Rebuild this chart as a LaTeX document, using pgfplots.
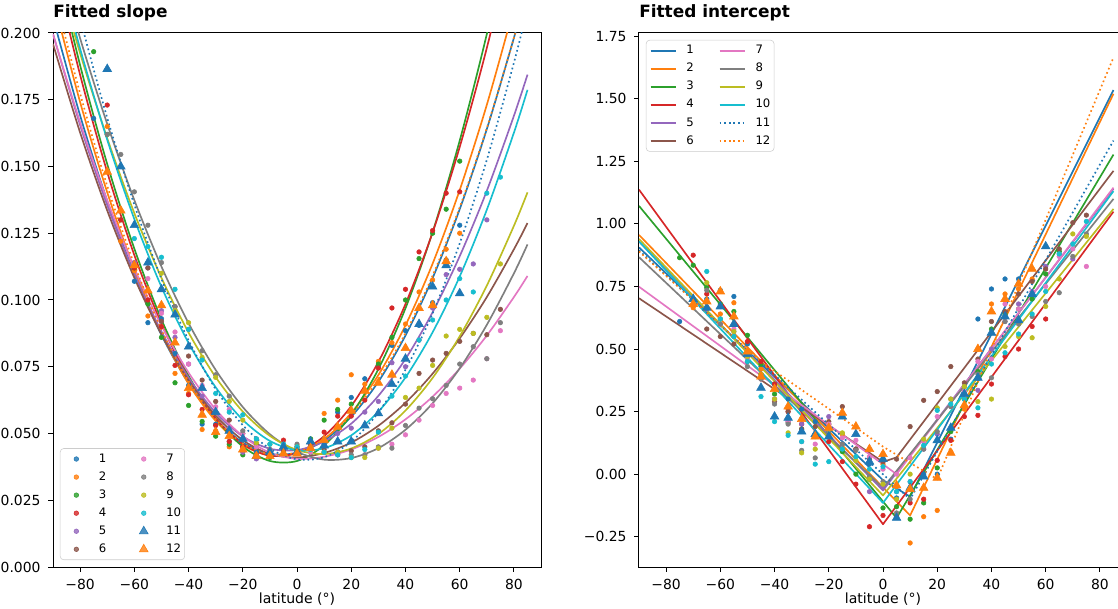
\documentclass[border=0pt]{standalone}
\usepackage{fontspec}
\setmainfont{DejaVu Sans}
\usepackage{pgfplots}
\pgfplotsset{compat=1.18}
\definecolor{c0}{HTML}{1F77B4}
\definecolor{c1}{HTML}{FF7F0E}
\definecolor{c2}{HTML}{2CA02C}
\definecolor{c3}{HTML}{D62728}
\definecolor{c4}{HTML}{9467BD}
\definecolor{c5}{HTML}{8C564B}
\definecolor{c6}{HTML}{E377C2}
\definecolor{c7}{HTML}{7F7F7F}
\definecolor{c8}{HTML}{BCBD22}
\definecolor{c9}{HTML}{17BECF}
\pgfplotsset{
  ln/.style={line width=1.2pt, mark=none, line join=round},
  dt/.style={line width=1.2pt, mark=none, dash pattern=on 1.2pt off 2.1pt},
  dot/.style={only marks, mark=*, mark size=1.65pt, mark options={draw=none}},
  tri/.style={only marks, mark=triangle*, mark size=3.6pt, mark options={draw=none}},
  base/.style={
    width=351.4pt, height=384.5pt, scale only axis,
    xmin=-90, xmax=90,
    xtick={-80,-60,-40,-20,0,20,40,60,80},
    xticklabels={−80,−60,−40,−20,0,20,40,60,80},
    scaled ticks=false,
    tick pos=left,
    tick align=outside,
    major tick length=3.5pt,
    tick style={black, line width=0.7pt},
    axis line style={line width=0.7pt},
    ticklabel style={font=\fontsize{10}{12}\selectfont},
    xticklabel style={anchor=base, yshift=-13pt},
    yticklabel style={xshift=-2pt},
    xlabel={latitude (°)},
    xlabel style={at={(axis description cs:0.5,0)}, anchor=base, yshift=-26pt, font=\fontsize{10.1}{12}\selectfont},
    title style={at={(0,1)}, anchor=base west, yshift=5pt, inner sep=0pt, font=\fontsize{12.2}{14}\selectfont\bfseries},
    legend cell align=left,
    legend image code/.code={\path[draw=none,fill=none] (0pt,-1pt) rectangle (18pt,1pt); \draw[mark repeat=2,mark phase=2,##1] plot coordinates {(0pt,0pt) (9pt,0pt) (18pt,0pt)};},
    legend columns=6, transpose legend,
    legend style={draw=black!20, rounded corners=2.5pt, fill=white, fill opacity=0.8, text opacity=1,
      font=\fontsize{8.4}{10}\selectfont, inner xsep=2.6pt, inner ysep=3.5pt, row sep=4.9pt,
      nodes={inner sep=0pt, text height=6.3pt, text depth=1.8pt},
      /tikz/every odd column/.append style={column sep=7.2pt},
      /tikz/every even column/.append style={column sep=18pt}},
  }
}
\begin{document}
\begin{tikzpicture}
%================ LEFT: fitted slope =================
\begin{axis}[base,
  title={Fitted slope},
  ymin=0, ymax=0.2,
  ytick={0,0.025,0.05,0.075,0.1,0.125,0.15,0.175,0.2},
  yticklabels={0.000,0.025,0.050,0.075,0.100,0.125,0.150,0.175,0.200},
  legend style={at={(0,0)}, anchor=south west, xshift=5pt, yshift=5pt},
]
% fitted curves
\addplot[c0, ln, smooth, forget plot] coordinates {(-90,0.2058) (-80,0.1691) (-70,0.1371) (-60,0.1097) (-50,0.0869) (-40,0.0688) (-30,0.0554) (-20,0.0466) (-10,0.0424) (0,0.0428) (10,0.0474) (20,0.0563) (30,0.0694) (40,0.0867) (50,0.1082) (60,0.1340) (70,0.1640) (80,0.1982) (85,0.2169)};
\addplot[c1, ln, smooth, forget plot] coordinates {(-90,0.2130) (-80,0.1741) (-70,0.1403) (-60,0.1114) (-50,0.0875) (-40,0.0686) (-30,0.0547) (-20,0.0457) (-10,0.0417) (0,0.0426) (10,0.0479) (20,0.0577) (30,0.0719) (40,0.0905) (50,0.1136) (60,0.1412) (70,0.1731) (80,0.2095) (85,0.2294)};
\addplot[c2, ln, smooth, forget plot] coordinates {(-90,0.2302) (-80,0.1879) (-70,0.1509) (-60,0.1192) (-50,0.0927) (-40,0.0716) (-30,0.0557) (-20,0.0451) (-10,0.0397) (0,0.0397) (10,0.0456) (20,0.0570) (30,0.0741) (40,0.0969) (50,0.1254) (60,0.1597) (70,0.1996) (80,0.2452) (85,0.2701)};
\addplot[c3, ln, smooth, forget plot] coordinates {(-90,0.2261) (-80,0.1843) (-70,0.1479) (-60,0.1168) (-50,0.0911) (-40,0.0707) (-30,0.0557) (-20,0.0460) (-10,0.0417) (0,0.0428) (10,0.0490) (20,0.0603) (30,0.0768) (40,0.0985) (50,0.1253) (60,0.1573) (70,0.1944) (80,0.2367) (85,0.2598)};
\addplot[c4, ln, smooth, forget plot] coordinates {(-90,0.1997) (-80,0.1655) (-70,0.1355) (-60,0.1097) (-50,0.0882) (-40,0.0709) (-30,0.0578) (-20,0.0489) (-10,0.0443) (0,0.0438) (10,0.0470) (20,0.0537) (30,0.0641) (40,0.0779) (50,0.0954) (60,0.1164) (70,0.1409) (80,0.1690) (85,0.1844)};
\addplot[c5, ln, smooth, forget plot] coordinates {(-90,0.1959) (-80,0.1627) (-70,0.1335) (-60,0.1083) (-50,0.0871) (-40,0.0699) (-30,0.0567) (-20,0.0475) (-10,0.0423) (0,0.0410) (10,0.0427) (20,0.0466) (30,0.0529) (40,0.0615) (50,0.0724) (60,0.0856) (70,0.1011) (80,0.1190) (85,0.1288)};
\addplot[c6, ln, smooth, forget plot] coordinates {(-90,0.1995) (-80,0.1665) (-70,0.1373) (-60,0.1119) (-50,0.0904) (-40,0.0728) (-30,0.0590) (-20,0.0490) (-10,0.0428) (0,0.0405) (10,0.0413) (20,0.0440) (30,0.0487) (40,0.0553) (50,0.0638) (60,0.0743) (70,0.0867) (80,0.1011) (85,0.1090)};
\addplot[c7, ln, smooth, forget plot] coordinates {(-90,0.2338) (-80,0.1980) (-70,0.1659) (-60,0.1374) (-50,0.1125) (-40,0.0913) (-30,0.0738) (-20,0.0599) (-10,0.0497) (0,0.0431) (10,0.0402) (20,0.0408) (30,0.0445) (40,0.0514) (50,0.0613) (60,0.0744) (70,0.0907) (80,0.1100) (85,0.1208)};
\addplot[c8, ln, smooth, forget plot] coordinates {(-90,0.2280) (-80,0.1924) (-70,0.1606) (-60,0.1325) (-50,0.1083) (-40,0.0878) (-30,0.0711) (-20,0.0582) (-10,0.0491) (0,0.0438) (10,0.0423) (20,0.0444) (30,0.0498) (40,0.0586) (50,0.0708) (60,0.0864) (70,0.1054) (80,0.1278) (85,0.1403)};
\addplot[c9, ln, smooth, forget plot] coordinates {(-90,0.2326) (-80,0.1941) (-70,0.1600) (-60,0.1303) (-50,0.1049) (-40,0.0839) (-30,0.0673) (-20,0.0551) (-10,0.0472) (0,0.0437) (10,0.0445) (20,0.0493) (30,0.0582) (40,0.0710) (50,0.0879) (60,0.1088) (70,0.1338) (80,0.1627) (85,0.1787)};
\addplot[c0, dt, smooth, forget plot] coordinates {(-90,0.2475) (-80,0.2055) (-70,0.1682) (-60,0.1357) (-50,0.1079) (-40,0.0849) (-30,0.0666) (-20,0.0531) (-10,0.0443) (0,0.0403) (10,0.0411) (20,0.0469) (30,0.0579) (40,0.0739) (50,0.0950) (60,0.1212) (70,0.1525) (80,0.1889) (85,0.2090)};
\addplot[c1, dt, smooth, forget plot] coordinates {(-90,0.2168) (-80,0.1773) (-70,0.1427) (-60,0.1133) (-50,0.0889) (-40,0.0696) (-30,0.0554) (-20,0.0463) (-10,0.0422) (0,0.0430) (10,0.0480) (20,0.0570) (30,0.0703) (40,0.0876) (50,0.1091) (60,0.1347) (70,0.1644) (80,0.1982) (85,0.2167)};
% points
\addplot[c0, dot] coordinates {(-75,0.168) (-60,0.107) (-55,0.0915) (-50,0.093) (-45,0.080) (-40,0.068) (-35,0.0535) (-30,0.0535) (-25,0.047) (-20,0.045) (-15,0.043) (-10,0.043) (-5,0.0445) (0,0.044) (5,0.045) (10,0.048) (15,0.058) (20,0.0635) (25,0.0705) (30,0.075) (35,0.083) (40,0.0885) (45,0.0905) (50,0.099) (55,0.115) (60,0.128)};
\addlegendentry{1}
\addplot[c1, dot] coordinates {(-70,0.165) (-65,0.122) (-60,0.111) (-55,0.094) (-50,0.090) (-45,0.0725) (-40,0.065) (-35,0.0515) (-30,0.051) (-25,0.045) (-20,0.044) (-15,0.042) (-10,0.042) (-5,0.043) (0,0.044) (5,0.046) (10,0.0575) (15,0.0625) (20,0.072) (25,0.0685) (30,0.077) (35,0.084) (40,0.091) (45,0.103) (50,0.1075) (55,0.119) (60,0.125)};
\addlegendentry{2}
\addplot[c2, dot] coordinates {(-75,0.193) (-70,0.162) (-65,0.130) (-60,0.112) (-55,0.0985) (-50,0.086) (-45,0.069) (-40,0.0605) (-35,0.0545) (-30,0.049) (-25,0.046) (-20,0.042) (-15,0.041) (-10,0.041) (-5,0.043) (0,0.044) (5,0.048) (10,0.055) (15,0.059) (20,0.061) (25,0.066) (30,0.076) (35,0.086) (40,0.100) (45,0.1155) (50,0.125) (55,0.134) (60,0.152)};
\addlegendentry{3}
\addplot[c3, dot] coordinates {(-70,0.173) (-65,0.130) (-60,0.112) (-55,0.100) (-50,0.090) (-45,0.0755) (-40,0.0645) (-35,0.059) (-30,0.053) (-25,0.047) (-20,0.045) (-15,0.042) (-10,0.043) (-5,0.0475) (0,0.045) (5,0.046) (10,0.0505) (15,0.0565) (20,0.0565) (25,0.0625) (30,0.0745) (35,0.097) (40,0.104) (45,0.118) (50,0.126) (55,0.140) (60,0.1405)};
\addlegendentry{4}
\addplot[c4, dot] coordinates {(-60,0.114) (-55,0.112) (-50,0.096) (-45,0.086) (-40,0.076) (-35,0.064) (-30,0.058) (-25,0.052) (-20,0.043) (-15,0.0405) (-10,0.043) (-5,0.045) (0,0.045) (5,0.044) (10,0.046) (15,0.050) (20,0.052) (25,0.058) (30,0.062) (35,0.0765) (40,0.075) (45,0.085) (50,0.097) (55,0.1095) (60,0.1115) (65,0.1135) (70,0.130)};
\addlegendentry{5}
\addplot[c5, dot] coordinates {(-55,0.112) (-50,0.092) (-45,0.0975) (-40,0.079) (-35,0.070) (-30,0.062) (-25,0.055) (-20,0.050) (-15,0.046) (-10,0.043) (-5,0.044) (0,0.045) (5,0.045) (10,0.044) (15,0.043) (20,0.0435) (25,0.045) (30,0.051) (35,0.054) (40,0.061) (45,0.0725) (50,0.0775) (55,0.080) (60,0.0845) (65,0.0875) (70,0.087) (75,0.0965)};
\addlegendentry{6}
\addplot[c6, dot] coordinates {(-55,0.108) (-50,0.095) (-45,0.088) (-40,0.076) (-35,0.068) (-30,0.060) (-25,0.059) (-20,0.050) (-15,0.045) (-10,0.044) (-5,0.045) (0,0.045) (5,0.043) (10,0.043) (15,0.042) (20,0.041) (25,0.042) (30,0.0445) (35,0.046) (40,0.0495) (45,0.055) (50,0.0605) (55,0.065) (60,0.067) (65,0.070) (70,0.078) (75,0.0885)};
\addlegendentry{7}
\addplot[c7, dot] coordinates {(-70,0.162) (-65,0.1545) (-60,0.1405) (-55,0.128) (-50,0.114) (-45,0.0975) (-40,0.089) (-35,0.081) (-30,0.072) (-25,0.064) (-20,0.051) (-15,0.048) (-10,0.044) (-5,0.046) (0,0.046) (5,0.045) (10,0.043) (15,0.042) (20,0.042) (25,0.042) (30,0.045) (35,0.0445) (40,0.053) (45,0.0595) (50,0.063) (55,0.068) (60,0.076) (65,0.0825) (70,0.078) (75,0.0915)};
\addlegendentry{8}
\addplot[c8, dot] coordinates {(-50,0.110) (-45,0.096) (-40,0.0915) (-35,0.0785) (-30,0.071) (-25,0.062) (-20,0.055) (-15,0.0465) (-10,0.046) (-5,0.045) (0,0.045) (5,0.044) (10,0.043) (15,0.043) (20,0.041) (25,0.041) (30,0.0445) (35,0.052) (40,0.0635) (45,0.067) (50,0.0755) (55,0.0865) (60,0.089) (65,0.0875) (70,0.0935) (75,0.1135)};
\addlegendentry{9}
\addplot[c9, dot] coordinates {(-60,0.123) (-55,0.120) (-50,0.116) (-45,0.104) (-40,0.089) (-35,0.0775) (-30,0.065) (-25,0.058) (-20,0.057) (-15,0.048) (-10,0.046) (-5,0.046) (0,0.045) (5,0.044) (10,0.043) (15,0.042) (20,0.041) (25,0.044) (30,0.0505) (35,0.064) (40,0.0715) (45,0.085) (50,0.0925) (55,0.100) (60,0.108) (65,0.103) (70,0.140) (75,0.146)};
\addlegendentry{10}
\addplot[c0, tri] coordinates {(-70,0.1865) (-65,0.150) (-60,0.128) (-55,0.114) (-50,0.104) (-45,0.0945) (-40,0.0825) (-35,0.067) (-30,0.058) (-25,0.051) (-20,0.048) (-15,0.0415) (-10,0.043) (-5,0.045) (0,0.043) (5,0.047) (10,0.0455) (15,0.047) (20,0.047) (25,0.053) (30,0.0575) (35,0.0685) (40,0.078) (45,0.091) (50,0.105) (55,0.113) (60,0.1025)};
\addlegendentry{11}
\addplot[c1, tri] coordinates {(-70,0.148) (-65,0.1335) (-60,0.113) (-55,0.1035) (-50,0.098) (-45,0.084) (-40,0.067) (-35,0.057) (-30,0.0505) (-25,0.049) (-20,0.044) (-15,0.0415) (-10,0.0415) (-5,0.0425) (0,0.0425) (5,0.0445) (10,0.0475) (15,0.0525) (20,0.0585) (25,0.066) (30,0.069) (35,0.072) (40,0.082) (45,0.097) (50,0.098) (55,0.1145)};
\addlegendentry{12}
\end{axis}
%================ RIGHT: fitted intercept =================
\begin{axis}[base,
  at={(421.9pt,0pt)}, anchor=south west,
  title={Fitted intercept},
  ymin=-0.371, ymax=1.763,
  ytick={-0.25,0,0.25,0.5,0.75,1,1.25,1.5,1.75},
  yticklabels={−0.25,0.00,0.25,0.50,0.75,1.00,1.25,1.50,1.75},
  legend style={at={(0,1)}, anchor=north west, xshift=5pt, yshift=-5pt},
]
% points
\addplot[c0, dot, forget plot] coordinates {(-75,0.61) (-70,0.70) (-65,0.70) (-60,0.735) (-55,0.71) (-50,0.52) (-45,0.43) (-40,0.36) (-35,0.30) (-30,0.26) (-25,0.21) (-20,0.20) (-15,0.12) (-10,0.10) (-5,0.04) (0,0.05) (5,-0.095) (10,-0.06) (15,0.0) (20,0.0) (25,0.14) (30,0.32) (35,0.62) (40,0.74) (45,0.78) (50,0.78)};
\addplot[c1, dot, forget plot] coordinates {(-70,0.665) (-65,0.69) (-60,0.64) (-55,0.685) (-50,0.49) (-45,0.42) (-40,0.34) (-35,0.26) (-30,0.22) (-25,0.16) (-20,0.20) (-15,0.16) (-10,0.10) (-5,0.05) (0,0.04) (5,-0.05) (10,-0.275) (15,-0.17) (20,-0.145) (25,0.09) (30,0.26) (35,0.50) (40,0.68) (45,0.72) (50,0.74) (55,0.78)};
\addplot[c2, dot, forget plot] coordinates {(-75,0.865) (-70,0.835) (-65,0.745) (-60,0.68) (-55,0.65) (-50,0.555) (-45,0.44) (-40,0.32) (-35,0.205) (-30,0.18) (-25,0.16) (-20,0.17) (-15,0.09) (-10,0.0) (-5,-0.02) (0,-0.135) (5,-0.13) (10,-0.18) (15,-0.115) (20,0.025) (25,0.17) (30,0.30) (35,0.41) (40,0.58) (45,0.64) (50,0.66) (55,0.70) (60,0.80) (65,0.89)};
\addplot[c3, dot, forget plot] coordinates {(-70,0.875) (-65,0.72) (-60,0.67) (-55,0.60) (-50,0.53) (-45,0.45) (-40,0.36) (-35,0.25) (-30,0.20) (-25,0.15) (-20,0.13) (-15,0.05) (-10,-0.04) (-5,-0.21) (0,-0.165) (5,-0.17) (10,-0.115) (15,-0.10) (20,0.055) (25,0.135) (30,0.23) (35,0.235) (40,0.36) (45,0.47) (50,0.50) (55,0.59) (60,0.62)};
\addplot[c4, dot, forget plot] coordinates {(-65,0.66) (-60,0.62) (-55,0.57) (-50,0.47) (-45,0.40) (-40,0.30) (-35,0.21) (-30,0.20) (-25,0.16) (-20,0.23) (-15,0.23) (-10,0.10) (-5,-0.07) (0,-0.05) (5,-0.07) (10,-0.03) (15,0.10) (20,0.16) (25,0.30) (30,0.30) (35,0.335) (40,0.50) (45,0.61) (50,0.68) (55,0.73) (60,0.83) (65,0.88) (70,0.86)};
\addplot[c5, dot, forget plot] coordinates {(-65,0.58) (-60,0.55) (-55,0.52) (-50,0.45) (-45,0.40) (-40,0.29) (-35,0.25) (-30,0.18) (-25,0.19) (-20,0.21) (-15,0.27) (-10,0.10) (-5,0.06) (0,0.05) (5,0.06) (10,0.19) (15,0.295) (20,0.33) (25,0.43) (30,0.365) (35,0.46) (40,0.61) (45,0.65) (50,0.72) (55,0.77) (60,0.82) (65,0.90) (70,1.005) (75,1.035)};
\addplot[c6, dot, forget plot] coordinates {(-60,0.60) (-55,0.58) (-50,0.46) (-45,0.38) (-40,0.30) (-35,0.21) (-30,0.13) (-25,0.12) (-20,0.20) (-15,0.145) (-10,0.135) (-5,0.07) (0,0.02) (5,0.0) (10,0.065) (15,0.13) (20,0.23) (25,0.27) (30,0.33) (35,0.45) (40,0.46) (45,0.68) (50,0.66) (55,0.73) (60,0.75) (65,0.87) (70,0.90) (75,0.83)};
\addplot[c7, dot, forget plot] coordinates {(-65,0.735) (-60,0.60) (-55,0.55) (-50,0.43) (-45,0.38) (-40,0.28) (-35,0.20) (-30,0.095) (-25,0.065) (-20,0.17) (-15,0.12) (-10,0.095) (-5,-0.01) (0,-0.03) (5,-0.155) (10,-0.10) (15,0.10) (20,0.17) (25,0.27) (30,0.35) (35,0.40) (40,0.385) (45,0.61) (50,0.60) (55,0.63) (60,0.69) (65,0.725) (70,0.87) (75,0.96)};
\addplot[c8, dot, forget plot] coordinates {(-65,0.765) (-60,0.62) (-55,0.57) (-50,0.47) (-45,0.40) (-40,0.30) (-35,0.165) (-30,0.085) (-25,0.10) (-20,0.18) (-15,0.165) (-10,0.055) (-5,-0.02) (0,-0.04) (5,-0.10) (10,0.0) (15,0.14) (20,0.265) (25,0.30) (30,0.35) (35,0.29) (40,0.30) (45,0.51) (50,0.55) (55,0.545) (60,0.67) (65,0.78) (70,0.96) (75,0.95)};
\addplot[c9, dot, forget plot] coordinates {(-65,0.81) (-60,0.62) (-55,0.55) (-50,0.45) (-45,0.31) (-40,0.21) (-35,0.155) (-30,0.13) (-25,0.04) (-20,0.05) (-15,0.10) (-10,0.07) (-5,0.02) (0,0.03) (5,-0.07) (10,-0.03) (15,0.115) (20,0.255) (25,0.28) (30,0.30) (35,0.265) (40,0.44) (45,0.485) (50,0.56) (55,0.64) (60,0.73) (65,0.88) (70,0.92) (75,1.01)};
\addplot[c0, tri, forget plot] coordinates {(-70,0.70) (-65,0.665) (-60,0.67) (-55,0.60) (-50,0.48) (-45,0.345) (-40,0.23) (-35,0.225) (-30,0.17) (-25,0.16) (-20,0.15) (-15,0.23) (-10,0.16) (-5,0.05) (0,0.06) (5,-0.175) (10,-0.055) (15,-0.01) (20,0.135) (25,0.185) (30,0.32) (35,0.385) (40,0.565) (45,0.63) (50,0.615) (55,0.72) (60,0.91)};
\addplot[c1, tri, forget plot] coordinates {(-70,0.68) (-65,0.69) (-60,0.73) (-55,0.63) (-50,0.49) (-45,0.39) (-40,0.34) (-35,0.27) (-30,0.22) (-25,0.15) (-20,0.185) (-15,0.245) (-10,0.19) (-5,0.10) (0,0.08) (5,-0.045) (10,-0.06) (15,-0.055) (20,-0.015) (25,0.085) (30,0.275) (35,0.50) (40,0.65) (45,0.70) (50,0.76) (55,0.82)};
% fitted lines
\addplot[c0, ln] coordinates {(-90,0.906) (0,-0.024) (10,-0.09) (85,1.535)};
\addlegendentry{1}
\addplot[c1, ln] coordinates {(-90,0.956) (10,-0.165) (85,1.52)};
\addlegendentry{2}
\addplot[c2, ln] coordinates {(-90,1.072) (5,-0.175) (85,1.277)};
\addlegendentry{3}
\addplot[c3, ln] coordinates {(-90,1.137) (0,-0.20) (85,1.049)};
\addlegendentry{4}
\addplot[c4, ln] coordinates {(-90,0.93) (0,-0.065) (85,1.14)};
\addlegendentry{5}
\addplot[c5, ln] coordinates {(-90,0.703) (0,0.049) (5,0.067) (85,1.212)};
\addlegendentry{6}
\addplot[c6, ln] coordinates {(-90,0.749) (5,0.0) (85,1.145)};
\addlegendentry{7}
\addplot[c7, ln] coordinates {(-90,0.867) (0,-0.055) (85,1.10)};
\addlegendentry{8}
\addplot[c8, ln] coordinates {(-90,0.94) (0,-0.085) (85,1.06)};
\addlegendentry{9}
\addplot[c9, ln] coordinates {(-90,0.93) (0,-0.115) (85,1.131)};
\addlegendentry{10}
\addplot[c0, dt] coordinates {(-90,0.894) (10,-0.10) (85,1.333)};
\addlegendentry{11}
\addplot[c1, dt] coordinates {(-90,0.89) (-45,0.45) (0,0.11) (20,-0.02) (85,1.665)};
\addlegendentry{12}
\end{axis}
\pgfresetboundingbox
\path[use as bounding box] (-38.16pt,-30.24pt) rectangle (766.8pt,408.24pt);
\end{tikzpicture}
\end{document}
